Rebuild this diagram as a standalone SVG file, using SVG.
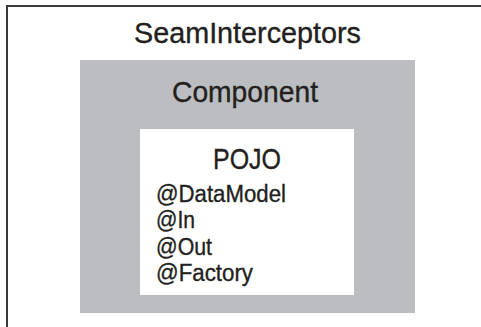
<svg xmlns="http://www.w3.org/2000/svg" width="481" height="327" viewBox="0 0 481 327">
  <style>
    .t { font-family: "Liberation Sans", Arial, sans-serif; fill: #231f20; stroke: #231f20; stroke-width: 0.35; }
    .title { text-anchor: middle; }
    .frame { fill: none; stroke: #3a3a3a; stroke-width: 2; }
  </style>
  <rect width="481" height="327" fill="#ffffff"/>
  <g id="seam-interceptors">
    <path class="frame" d="M7,327 V6 H481"/>
    <text class="t title" x="247.5" y="43" font-size="30" textLength="227" lengthAdjust="spacingAndGlyphs">SeamInterceptors</text>
  </g>
  <g id="component">
    <rect x="80" y="60" width="335" height="253" fill="#bcbdc0"/>
    <text class="t title" x="245" y="102" font-size="30" textLength="146" lengthAdjust="spacingAndGlyphs">Component</text>
  </g>
  <g id="pojo">
    <rect x="140" y="129" width="214" height="166" fill="#ffffff"/>
    <text class="t title" x="247" y="169" font-size="29" textLength="68" lengthAdjust="spacingAndGlyphs">POJO</text>
    <text class="t" x="156" y="202" font-size="23.5" textLength="130" lengthAdjust="spacingAndGlyphs">@DataModel</text>
    <text class="t" x="156" y="228" font-size="23.5" textLength="39" lengthAdjust="spacingAndGlyphs">@In</text>
    <text class="t" x="156" y="255" font-size="23.5" textLength="56" lengthAdjust="spacingAndGlyphs">@Out</text>
    <text class="t" x="156" y="281" font-size="23.5" textLength="97" lengthAdjust="spacingAndGlyphs">@Factory</text>
  </g>
  <g id="connectors"/>
</svg>
